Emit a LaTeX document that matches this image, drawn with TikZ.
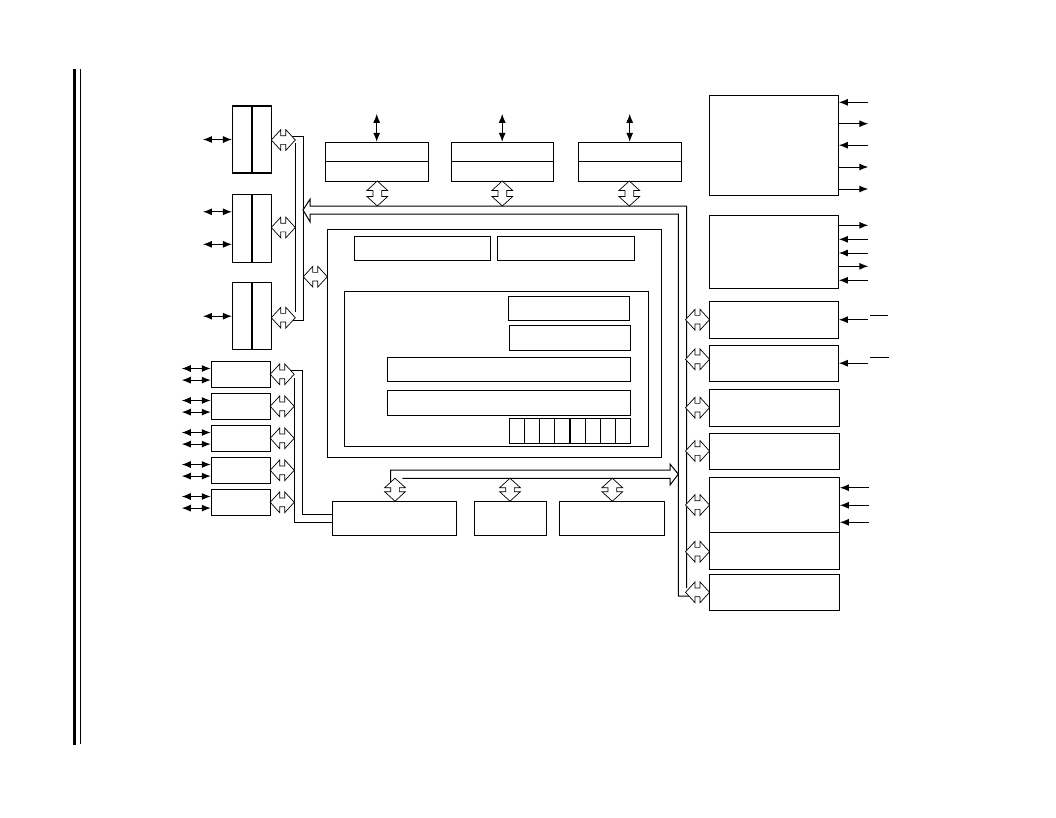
\documentclass[tikz,border=0pt]{standalone}
\usetikzlibrary{arrows.meta,shapes.arrows}

\begin{document}
\begin{tikzpicture}[x=1pt,y=-1pt,>={Latex[length=9pt,width=7pt]}]
                    \tikzstyle{blk}=[draw,line width=1.1pt,inner sep=0pt]
                    \tikzstyle{busarr}=[double arrow,draw,fill=white,line width=0.7pt,inner xsep=0pt,inner ysep=4pt,minimum height=24pt,double arrow head extend=6pt,double arrow tip angle=95]
                    \tikzstyle{sig}=[line width=1pt]
                    \tikzstyle{bus}=[line width=1pt]
                    \useasboundingbox (0,0) rectangle (1056,817);

                    % page margin bars
                    \draw [line width=3.3pt] (74.4,69) -- (74.4,745);
                    \draw [line width=1pt] (80.2,69) -- (80.2,744);

                    % left ports
                    \node (L1) at (252,139.5) [blk,minimum width=39pt,minimum height=67pt] {};
                    \node (L2) at (252,228.3) [blk,minimum width=39pt,minimum height=68pt] {};
                    \node (L3) at (252,316.2) [blk,minimum width=39pt,minimum height=67pt] {};
                    \draw [line width=1.1pt] (L1.north) -- (L1.south);
                    \draw [line width=1.1pt] (L2.north) -- (L2.south);
                    \draw [line width=1.1pt] (L3.north) -- (L3.south);

                    \draw [sig,<->] (L1.west) -- ++(-29,0);
                    \draw [sig,<->] ([yshift=16.5pt]L2.west) -- ++(-29,0);
                    \draw [sig,<->] ([yshift=-16pt]L2.west) -- ++(-29,0);
                    \draw [sig,<->] (L3.west) -- ++(-29,0);

                    % left timers
                    \foreach \i in {1,...,5} {
                        \node (M\i) at (240.8,{374.3+32*(\i-1)}) [blk,minimum width=59pt,minimum height=26pt] {};
                        \draw [sig,<->] ([yshift=5.8pt]M\i.west) -- ++(-29,0);
                        \draw [sig,<->] ([yshift=-5.8pt]M\i.west) -- ++(-29,0);
                    }

                    % top row
                    \node (T1) at (376.7,161.7) [blk,minimum width=103.3pt,minimum height=38.7pt] {};
                    \node (T2) at (502.2,161.7) [blk,minimum width=102.3pt,minimum height=38.7pt] {};
                    \node (T3) at (629.7,161.7) [blk,minimum width=102.7pt,minimum height=38.7pt] {};
                    \draw [line width=1.1pt] (T1.west) -- (T1.east);
                    \draw [line width=1.1pt] (T2.west) -- (T2.east);
                    \draw [line width=1.1pt] (T3.west) -- (T3.east);
                    \draw [sig,<->] (T1.north) -- ++(0,-28);
                    \draw [sig,<->] (T2.north) -- ++(0,-28);
                    \draw [sig,<->] (T3.north) -- ++(0,-28);

                    % core
                    \node (C) at (494.5,343.5) [blk,minimum width=334.4pt,minimum height=228.4pt] {};
                    \node (C1) at (422.5,248.3) [blk,minimum width=136.4pt,minimum height=24pt] {};
                    \node (C2) at (566,248.3) [blk,minimum width=137.4pt,minimum height=24pt] {};
                    \node (D) at (496.5,368.7) [blk,minimum width=304.4pt,minimum height=154.7pt] {};
                    \node (D1) at (569,308.5) [blk,minimum width=121.4pt,minimum height=24.4pt] {};
                    \node (D2) at (570,338) [blk,minimum width=121.4pt,minimum height=25.4pt] {};
                    \node (D3) at (509,369.2) [blk,minimum width=243.4pt,minimum height=24.3pt] {};
                    \node (D4) at (509,402.8) [blk,minimum width=243.4pt,minimum height=25pt] {};
                    \foreach \i in {1,...,8}
                        \node (R\i) at ({509.3+15.175*(\i-0.5)},430.8) [blk,minimum width=15.175pt,minimum height=25pt] {};

                    % bottom row
                    \node (B1) at (394.5,518.2) [blk,minimum width=124.4pt,minimum height=34.3pt] {};
                    \node (B2) at (510.5,518.2) [blk,minimum width=72.4pt,minimum height=34.3pt] {};
                    \node (B3) at (612,518.2) [blk,minimum width=105.4pt,minimum height=34.3pt] {};

                    % right column
                    \node (P1) at (773.8,145.2) [blk,minimum width=129pt,minimum height=100.3pt] {};
                    \node (P2) at (773.8,251.8) [blk,minimum width=129pt,minimum height=73pt] {};
                    \node (P3) at (773.8,319.7) [blk,minimum width=129pt,minimum height=37.3pt] {};
                    \node (P4) at (773.8,363.2) [blk,minimum width=129pt,minimum height=35.7pt] {};
                    \node (P5) at (774.3,407.7) [blk,minimum width=130pt,minimum height=36.7pt] {};
                    \node (P6) at (774.3,451.3) [blk,minimum width=130pt,minimum height=36pt] {};
                    \node (P7) at (774.3,504.8) [blk,minimum width=130pt,minimum height=55pt] {};
                    \node (P8) at (774.3,550.7) [blk,minimum width=130pt,minimum height=36.7pt] {};
                    \node (P9) at (774.3,592.3) [blk,minimum width=130pt,minimum height=36pt] {};

                    \foreach \d in {42.9,0} \draw [sig,<-] ([yshift=\d pt]P1.east) -- ++(29.4,0);
                    \foreach \d in {21.5,-21.8,-43.8} \draw [sig,->] ([yshift=\d pt]P1.east) -- ++(29.4,0);
                    \foreach \d in {12.5,-1.2,-28.5} \draw [sig,<-] ([yshift=\d pt]P2.east) -- ++(29.4,0);
                    \foreach \d in {26.5,-14.5} \draw [sig,->] ([yshift=\d pt]P2.east) -- ++(29.4,0);
                    \draw [sig,<-] (P3.east) -- ++(29.4,0);
                    \draw [sig,<-] (P4.east) -- ++(29.4,0);
                    \foreach \d in {17.1,-0.5,-17.5} \draw [sig,<-] ([yshift=\d pt]P7.east) -- ++(29.4,0);
                    \draw [sig] (870,315) -- (887.7,315);
                    \draw [sig] (870,357.3) -- (889,357.3);

                    % buses
                    \draw [bus] (286,136.7) -- (303.3,136.7) -- (303.3,320) -- (286,320);
                    \draw [bus] (295,143.3) -- (295,311.7);
                    \draw [bus] (286,370.7) -- (302.3,370.7) |- ([yshift=4pt]B1.west);
                    \draw [bus] (294,378) |- ([yshift=-4pt]B1.west);
                    \draw [bus] (686.7,588) -- (686.7,206) -- (310,206) -- (310,199.3) -- (303,210)
                                -- (310,221.7) -- (310,214) -- (678.3,214) -- (678.3,596) -- (690,596);
                    \draw [bus] (390.7,486) -- (390.7,470) -- (670,470) -- (670,464) -- (678.3,474.2)
                                -- (670,485) -- (670,478.3) -- (402.3,478.3);

                    % bus arrows
                    \node (hL1) at (283.3,140) [busarr] {};
                    \node (hL2) at (283.3,227.5) [busarr] {};
                    \node (hL3) at (283.3,317.7) [busarr] {};
                    \node (hC) at (315.3,276.7) [busarr] {};
                    \foreach \i in {1,...,5}
                        \node (hM\i) at (282.2,{374.3+32*(\i-1)}) [busarr] {};
                    \node (hT1) at (377.3,193.5) [busarr,rotate=90,minimum height=25pt] {};
                    \node (hT2) at (502.3,193.5) [busarr,rotate=90,minimum height=25pt] {};
                    \node (hT3) at (629.3,193.5) [busarr,rotate=90,minimum height=25pt] {};
                    \node (hB1) at (395,489.7) [busarr,rotate=90,minimum height=23pt] {};
                    \node (hB2) at (510,489.7) [busarr,rotate=90,minimum height=23pt] {};
                    \node (hB3) at (612.3,489.7) [busarr,rotate=90,minimum height=23pt] {};
                    \foreach \y [count=\i from 3] in {319.7,359.3,407.7,451,505,551.7,592.3}
                        \node (hP\i) at (697.5,\y) [busarr] {};
                \end{tikzpicture}
\end{document}
